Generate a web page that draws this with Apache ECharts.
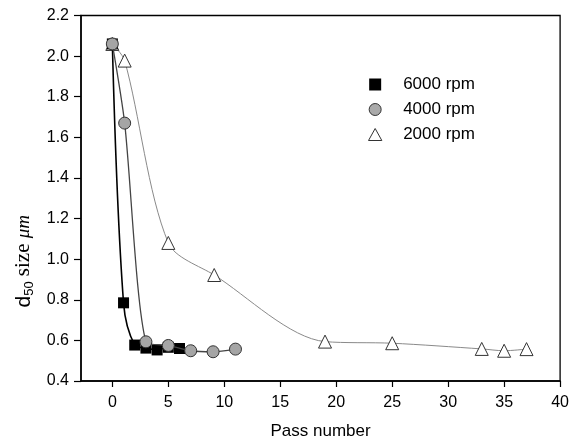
<!DOCTYPE html>
<html>
<head>
<meta charset="utf-8">
<script src="https://cdn.jsdelivr.net/npm/echarts@6/dist/echarts.min.js"></script>
<style>html,body{margin:0;padding:0;background:#fff}#c{width:572px;height:445px}</style>
</head>
<body>
<div id="c"></div>
<script>
// Data
const seriesNames = ['6000 rpm', '4000 rpm', '2000 rpm'];
const rpm6000 = [[0, 2.06], [1, 0.785], [2, 0.577], [3, 0.562], [4, 0.553], [5, 0.566], [6, 0.56]];
const rpm4000 = [[0, 2.06], [1.1, 1.67], [3, 0.593], [5, 0.575], [7, 0.549], [9, 0.544], [11, 0.557]];
const rpm2000 = [[0, 2.06], [1.1, 1.978], [5, 1.08], [9.1, 0.922], [19, 0.594], [25, 0.586], [33, 0.558], [35, 0.549], [37, 0.557]];
const xTicks = [0, 5, 10, 15, 20, 25, 30, 35, 40];
const yTicks = [0.4, 0.6, 0.8, 1.0, 1.2, 1.4, 1.6, 1.8, 2.0, 2.2];

const chart = echarts.init(document.getElementById('c'), null, {renderer: 'canvas'});
const sqPath = 'path://M0,0H10V10H0Z';
const circPath = 'path://M5,0A5,5,0,1,1,5,10A5,5,0,1,1,5,0Z';
const triPath = 'path://M5,0L10,9L0,9Z';
const option = {
  animation: false,
  backgroundColor: '#fff',
  textStyle: {fontFamily: 'Liberation Sans'},
  grid: {left: 81, right: 10, top: 15.5, bottom: 64, show: true, borderColor: '#000', borderWidth: 1.3, backgroundColor: 'transparent'},
  legend: {
    orient: 'vertical', left: 363, top: 71, itemWidth: 46, itemHeight: 12, itemGap: 8,
    textStyle: {fontSize: 17, color: '#000', fontFamily: 'Liberation Sans', lineHeight: 16},
    data: [
      {name: seriesNames[0], icon: sqPath, itemStyle: {color: '#000', borderWidth: 0}},
      {name: seriesNames[1], icon: circPath, itemStyle: {color: '#aaa', borderColor: '#333', borderWidth: 1}},
      {name: seriesNames[2], icon: triPath, itemStyle: {color: '#fff', borderColor: '#333', borderWidth: 1}}
    ]
  },
  xAxis: {
    type: 'value', min: -2.8, max: 40,
    name: 'Pass number', nameLocation: 'middle', nameGap: 42,
    nameTextStyle: {fontSize: 17, color: '#000', fontFamily: 'Liberation Sans'},
    axisLine: {show: true, onZero: false, lineStyle: {color: '#000', width: 1.5}},
    axisTick: {show: true, length: 6, customValues: xTicks, lineStyle: {color: '#000', width: 1.2}},
    axisLabel: {customValues: xTicks, margin: 14, fontSize: 16, color: '#000', fontFamily: 'Liberation Sans'},
    splitLine: {show: false}
  },
  yAxis: {
    type: 'value', min: 0.4, max: 2.2, interval: 0.2,
    name: '{a|d}{sub|50}{s| size }{u|μm}', nameLocation: 'middle', nameGap: 31, nameRotate: 90,
    nameTextStyle: {
      color: '#000',
      padding: [0, 126, 0, 0],
      rich: {
        a: {fontSize: 21, fontFamily: 'Liberation Sans', color: '#000', lineHeight: 24, verticalAlign: 'middle'},
        sub: {fontSize: 13, fontFamily: 'Liberation Sans', color: '#000', lineHeight: 10, verticalAlign: 'bottom'},
        s: {fontSize: 21, fontFamily: 'Liberation Serif', color: '#000', lineHeight: 24, verticalAlign: 'middle'},
        u: {fontSize: 19, fontFamily: 'Liberation Serif', fontStyle: 'italic', color: '#000', lineHeight: 24, verticalAlign: 'middle'}
      }
    },
    axisLine: {show: true, onZero: false, lineStyle: {color: '#000', width: 1.5}},
    axisTick: {show: true, length: 7, lineStyle: {color: '#000', width: 1.2}},
    axisLabel: {margin: 12, fontSize: 16, color: '#000', fontFamily: 'Liberation Sans', formatter: v => v.toFixed(1)},
    splitLine: {show: false}
  },
  series: [
    {
      name: seriesNames[2], type: 'line', data: rpm2000, smooth: 0.3, z: 2,
      symbol: 'triangle', symbolSize: 13,
      lineStyle: {color: '#8a8a8a', width: 1},
      itemStyle: {color: '#fff', borderColor: '#333', borderWidth: 1}
    },
    {
      name: seriesNames[0], type: 'line', data: rpm6000, smooth: 0.35, z: 3,
      symbol: 'rect', symbolSize: 11,
      lineStyle: {color: '#000', width: 1.6},
      itemStyle: {color: '#000', borderWidth: 0}
    },
    {
      name: seriesNames[1], type: 'line', data: rpm4000, smooth: 0.25, z: 4,
      symbol: 'circle', symbolSize: 12,
      lineStyle: {color: '#444', width: 1.3},
      itemStyle: {color: '#a5a5a5', borderColor: '#333', borderWidth: 1}
    }
  ]
};
chart.setOption(option);
</script>
</body>
</html>
